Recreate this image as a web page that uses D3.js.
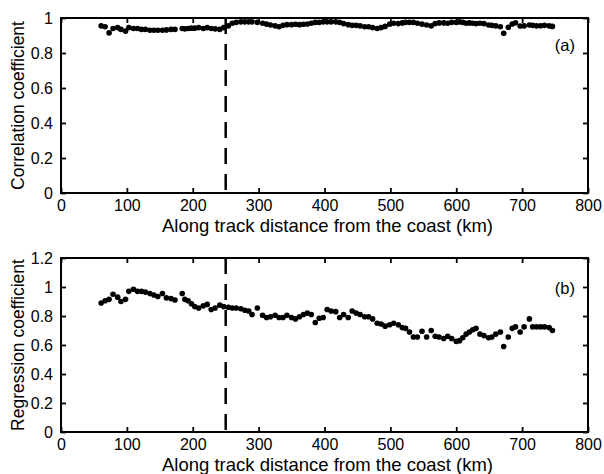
<!DOCTYPE html>
<html><head><meta charset="utf-8">
<script src="https://cdn.jsdelivr.net/npm/d3@7/dist/d3.min.js"></script>
<style>
html,body{margin:0;padding:0;background:#fff;}
svg{display:block;font-family:"Liberation Sans",Arial,Helvetica,sans-serif;}
</style></head>
<body>
<svg id="chart" width="604" height="474"></svg>
<script>
// Along-track distance (km)
const distance = [61,67,73,79,86,91,98,103,110,116,122,128,135,141,147,154,160,167,173,184,188,193,198,203,209,216,222,228,234,241,247,254,260,266,273,279,285,290,298,306,312,318,325,331,337,343,350,356,362,368,374,380,386,392,398,404,410,417,423,429,436,442,448,454,461,467,473,480,486,492,499,505,512,518,523,529,535,541,548,555,562,568,574,581,587,593,600,605,610,615,620,625,630,636,642,649,654,660,667,672,679,685,690,697,703,711,716,722,728,734,741,746];
// Panel (a): correlation coefficient
const correlation = [0.955,0.95,0.915,0.94,0.945,0.935,0.925,0.945,0.94,0.94,0.935,0.935,0.93,0.93,0.93,0.93,0.932,0.935,0.935,0.94,0.938,0.94,0.942,0.942,0.945,0.94,0.945,0.94,0.938,0.935,0.945,0.955,0.97,0.975,0.978,0.978,0.978,0.978,0.975,0.97,0.965,0.96,0.955,0.95,0.958,0.962,0.962,0.964,0.962,0.964,0.966,0.97,0.975,0.975,0.978,0.978,0.978,0.978,0.975,0.968,0.962,0.958,0.958,0.955,0.95,0.95,0.945,0.94,0.945,0.952,0.965,0.97,0.968,0.972,0.975,0.975,0.975,0.97,0.965,0.96,0.955,0.968,0.972,0.972,0.97,0.975,0.975,0.978,0.975,0.97,0.972,0.97,0.968,0.97,0.968,0.96,0.958,0.955,0.95,0.913,0.947,0.966,0.973,0.954,0.955,0.96,0.958,0.955,0.956,0.958,0.955,0.952];
// Panel (b): regression coefficient
const regression = [0.89,0.905,0.915,0.95,0.93,0.90,0.915,0.97,0.985,0.97,0.97,0.965,0.955,0.945,0.935,0.955,0.925,0.92,0.91,0.955,0.915,0.905,0.885,0.865,0.855,0.87,0.88,0.845,0.855,0.875,0.865,0.86,0.855,0.855,0.85,0.84,0.835,0.81,0.855,0.805,0.79,0.795,0.805,0.79,0.79,0.805,0.79,0.78,0.795,0.81,0.82,0.81,0.755,0.785,0.79,0.845,0.835,0.83,0.79,0.81,0.79,0.835,0.82,0.81,0.795,0.795,0.78,0.75,0.745,0.73,0.74,0.75,0.74,0.72,0.715,0.69,0.655,0.655,0.695,0.655,0.70,0.66,0.655,0.645,0.66,0.645,0.625,0.63,0.65,0.675,0.69,0.705,0.715,0.675,0.665,0.65,0.655,0.675,0.69,0.59,0.655,0.715,0.725,0.69,0.725,0.78,0.725,0.725,0.725,0.725,0.72,0.70];

const xTicks = [0,100,200,300,400,500,600,700,800];
const yTicksA = [0,0.2,0.4,0.6,0.8,1];
const yTicksB = [0,0.2,0.4,0.6,0.8,1,1.2];
const dashedAt = 250;
const xTitle = "Along track distance from the coast (km)";

const svg = d3.select("#chart");
const L = 61, R = 588;
const x = d3.scaleLinear().domain([0,800]).range([L,R]);
const FONT = "Liberation Sans, Arial, sans-serif";

const panels = [
  {top:18, bottom:193, yDomain:[0,1], ticks:yTicksA, values:correlation, title:"Correlation coefficient", tag:"(a)", tagY:51},
  {top:258, bottom:432, yDomain:[0,1.2], ticks:yTicksB, values:regression, title:"Regression coefficient", tag:"(b)", tagY:294}
];

panels.forEach(p=>{
  const y = d3.scaleLinear().domain(p.yDomain).range([p.bottom,p.top]);
  const g = svg.append("g");
  const tick = 5;
  g.append("line").attr("x1",x(dashedAt)).attr("x2",x(dashedAt))
    .attr("y1",p.top).attr("y2",p.bottom)
    .attr("stroke","#000").attr("stroke-width",2.5).attr("stroke-dasharray","16,10");
  const ax = d3.axisBottom(x).tickValues(xTicks).tickSize(-tick).tickPadding(7).tickFormat(d3.format("d"));
  const axT = d3.axisTop(x).tickValues(xTicks).tickSize(-tick).tickFormat("");
  const ay = d3.axisLeft(y).tickValues(p.ticks).tickSize(-tick).tickPadding(8).tickFormat(d3.format("~g"));
  const ayR = d3.axisRight(y).tickValues(p.ticks).tickSize(-tick).tickFormat("");
  [ [ax,`translate(0,${p.bottom})`], [axT,`translate(0,${p.top})`], [ay,`translate(${L},0)`], [ayR,`translate(${R},0)`] ].forEach(([a,t])=>{
    const ag = g.append("g").attr("transform",t).call(a);
    ag.select(".domain").remove();
    ag.selectAll(".tick line").attr("stroke","#000").attr("stroke-width",1.8);
    ag.selectAll("text").attr("font-size",16).attr("fill","#000").attr("font-family",FONT);
  });
  g.append("rect").attr("x",L).attr("y",p.top).attr("width",R-L).attr("height",p.bottom-p.top)
    .attr("fill","none").attr("stroke","#000").attr("stroke-width",2);
  g.selectAll("circle.pt").data(distance.map((d,i)=>[d,p.values[i]])).join("circle")
    .attr("class","pt").attr("cx",d=>x(d[0])).attr("cy",d=>y(d[1])).attr("r",2.8).attr("fill","#000");
  g.append("text").attr("transform",`translate(24,${(p.top+p.bottom)/2}) rotate(-90)`)
    .attr("text-anchor","middle").attr("font-size",17.5).text(p.title);
  g.append("text").attr("x",(L+R)/2+3).attr("y",p.bottom+38.5).attr("text-anchor","middle")
    .attr("font-size",18.5).text(xTitle);
  g.append("text").attr("x",575).attr("y",p.tagY).attr("text-anchor","end").attr("font-size",16.5).text(p.tag);
});
</script>
</body></html>
